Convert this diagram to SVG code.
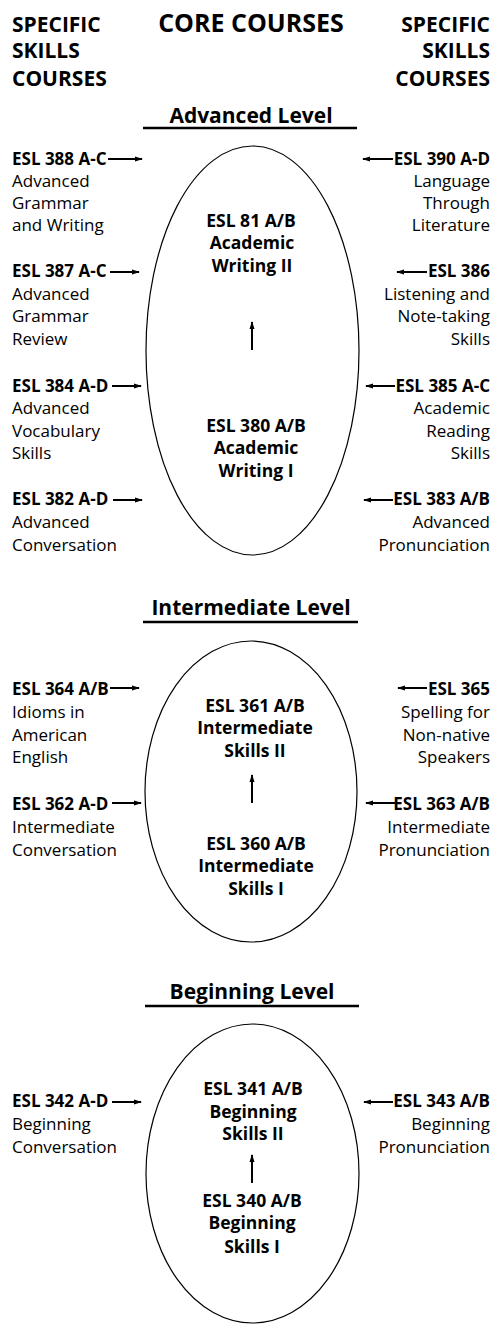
<svg xmlns="http://www.w3.org/2000/svg" width="495" height="1324" viewBox="0 0 495 1324">
<defs>
<marker id="ah" markerWidth="8" markerHeight="6" refX="7" refY="3" orient="auto" markerUnits="userSpaceOnUse">
<path d="M0,0.5 L8,3 L0,5.5 Z" fill="#000"/>
</marker>
</defs>
<style>
text{font-family:"Open Sans","Noto Sans","DejaVu Sans",sans-serif;fill:#000}
.h{font-size:21px;font-weight:bold}
.t{font-size:25px;font-weight:bold}
.lv{font-size:21px;font-weight:bold;text-anchor:middle}
.b{font-size:17px;font-weight:bold}
.r{font-size:17px}
.c{font-size:17.5px;font-weight:bold;text-anchor:middle}
.e{text-anchor:end}
.ell{fill:none;stroke:#000;stroke-width:1.2}
.ul{stroke:#000;stroke-width:2.5}
.ar{stroke:#000;stroke-width:2;fill:none;marker-end:url(#ah)}
</style>
<g id="headers">
<text class="h" x="12" y="32">SPECIFIC</text>
<text class="h" x="12" y="58">SKILLS</text>
<text class="h" x="12" y="86">COURSES</text>
<text class="t" x="251" y="32" text-anchor="middle">CORE COURSES</text>
<text class="h e" x="490" y="32">SPECIFIC</text>
<text class="h e" x="490" y="58">SKILLS</text>
<text class="h e" x="490" y="86">COURSES</text>
</g>
<g id="level-advanced">
<text class="lv" x="251" y="123">Advanced Level</text>
<line class="ul" x1="143" y1="128" x2="357" y2="128"/>
</g>
<g id="level-intermediate">
<text class="lv" x="251" y="615">Intermediate Level</text>
<line class="ul" x1="143" y1="622" x2="358" y2="622"/>
</g>
<g id="level-beginning">
<text class="lv" x="252" y="999">Beginning Level</text>
<line class="ul" x1="145" y1="1006" x2="359" y2="1006"/>
</g>
<g id="core-advanced">
<ellipse class="ell" cx="252.5" cy="350.5" rx="106.5" ry="204.5"/>
<text class="c" x="251" y="227">ESL 81 A/B</text>
<text class="c" x="252" y="249">Academic</text>
<text class="c" x="252" y="272">Writing II</text>
<text class="c" x="256" y="432">ESL 380 A/B</text>
<text class="c" x="256" y="454">Academic</text>
<text class="c" x="256" y="477">Writing I</text>
</g>
<g id="core-intermediate">
<ellipse class="ell" cx="251" cy="791.5" rx="106" ry="150.5"/>
<text class="c" x="255" y="712">ESL 361 A/B</text>
<text class="c" x="255" y="734">Intermediate</text>
<text class="c" x="255" y="757">Skills II</text>
<text class="c" x="256" y="850">ESL 360 A/B</text>
<text class="c" x="256" y="872">Intermediate</text>
<text class="c" x="256" y="895">Skills I</text>
</g>
<g id="core-beginning">
<ellipse class="ell" cx="252.5" cy="1173.5" rx="106.5" ry="149.5"/>
<text class="c" x="253" y="1095">ESL 341 A/B</text>
<text class="c" x="253" y="1118">Beginning</text>
<text class="c" x="253" y="1140">Skills II</text>
<text class="c" x="252" y="1207">ESL 340 A/B</text>
<text class="c" x="252" y="1229">Beginning</text>
<text class="c" x="252" y="1253">Skills I</text>
</g>
<g id="esl388"><text class="b" x="12" y="165">ESL 388 A-C</text><text class="r" x="12" y="187">Advanced</text><text class="r" x="12" y="209">Grammar</text><text class="r" x="12" y="231">and Writing</text></g>
<g id="esl387"><text class="b" x="12" y="277">ESL 387 A-C</text><text class="r" x="12" y="300">Advanced</text><text class="r" x="12" y="322">Grammar</text><text class="r" x="12" y="345">Review</text></g>
<g id="esl384"><text class="b" x="12" y="392">ESL 384 A-D</text><text class="r" x="12" y="414">Advanced</text><text class="r" x="12" y="437">Vocabulary</text><text class="r" x="12" y="459">Skills</text></g>
<g id="esl382"><text class="b" x="12" y="505">ESL 382 A-D</text><text class="r" x="12" y="528">Advanced</text><text class="r" x="12" y="551">Conversation</text></g>
<g id="esl390"><text class="b e" x="490" y="165">ESL 390 A-D</text><text class="r e" x="490" y="187">Language</text><text class="r e" x="490" y="209">Through</text><text class="r e" x="490" y="231">Literature</text></g>
<g id="esl386"><text class="b e" x="490" y="277">ESL 386</text><text class="r e" x="490" y="300">Listening and</text><text class="r e" x="490" y="322">Note-taking</text><text class="r e" x="490" y="345">Skills</text></g>
<g id="esl385"><text class="b e" x="490" y="392">ESL 385 A-C</text><text class="r e" x="490" y="414">Academic</text><text class="r e" x="490" y="437">Reading</text><text class="r e" x="490" y="459">Skills</text></g>
<g id="esl383"><text class="b e" x="490" y="505">ESL 383 A/B</text><text class="r e" x="490" y="528">Advanced</text><text class="r e" x="490" y="551">Pronunciation</text></g>
<g id="esl364"><text class="b" x="12" y="695">ESL 364 A/B</text><text class="r" x="12" y="718">Idioms in</text><text class="r" x="12" y="741">American</text><text class="r" x="12" y="763">English</text></g>
<g id="esl362"><text class="b" x="12" y="810">ESL 362 A-D</text><text class="r" x="12" y="833">Intermediate</text><text class="r" x="12" y="856">Conversation</text></g>
<g id="esl365"><text class="b e" x="490" y="695">ESL 365</text><text class="r e" x="490" y="718">Spelling for</text><text class="r e" x="490" y="741">Non-native</text><text class="r e" x="490" y="763">Speakers</text></g>
<g id="esl363"><text class="b e" x="490" y="810">ESL 363 A/B</text><text class="r e" x="490" y="833">Intermediate</text><text class="r e" x="490" y="856">Pronunciation</text></g>
<g id="esl342"><text class="b" x="12" y="1107">ESL 342 A-D</text><text class="r" x="12" y="1130">Beginning</text><text class="r" x="12" y="1153">Conversation</text></g>
<g id="esl343"><text class="b e" x="490" y="1107">ESL 343 A/B</text><text class="r e" x="490" y="1130">Beginning</text><text class="r e" x="490" y="1153">Pronunciation</text></g>
<g id="connectors">
<line class="ar" x1="108" y1="159" x2="142" y2="159"/>
<line class="ar" x1="110" y1="272" x2="139" y2="272"/>
<line class="ar" x1="112" y1="386" x2="141" y2="386"/>
<line class="ar" x1="113" y1="500" x2="142" y2="500"/>
<line class="ar" x1="393" y1="159" x2="363" y2="159"/>
<line class="ar" x1="427" y1="272" x2="397" y2="272"/>
<line class="ar" x1="395" y1="386" x2="366" y2="386"/>
<line class="ar" x1="393" y1="500" x2="364" y2="500"/>
<line class="ar" x1="252" y1="350" x2="252" y2="322"/>
<line class="ar" x1="110" y1="688" x2="139" y2="688"/>
<line class="ar" x1="112" y1="803" x2="141" y2="803"/>
<line class="ar" x1="427" y1="688" x2="398" y2="688"/>
<line class="ar" x1="395" y1="803" x2="366" y2="803"/>
<line class="ar" x1="252" y1="803" x2="252" y2="775"/>
<line class="ar" x1="112" y1="1102" x2="141" y2="1102"/>
<line class="ar" x1="393" y1="1102" x2="364" y2="1102"/>
<line class="ar" x1="252" y1="1183" x2="252" y2="1155"/>
</g>
</svg>
